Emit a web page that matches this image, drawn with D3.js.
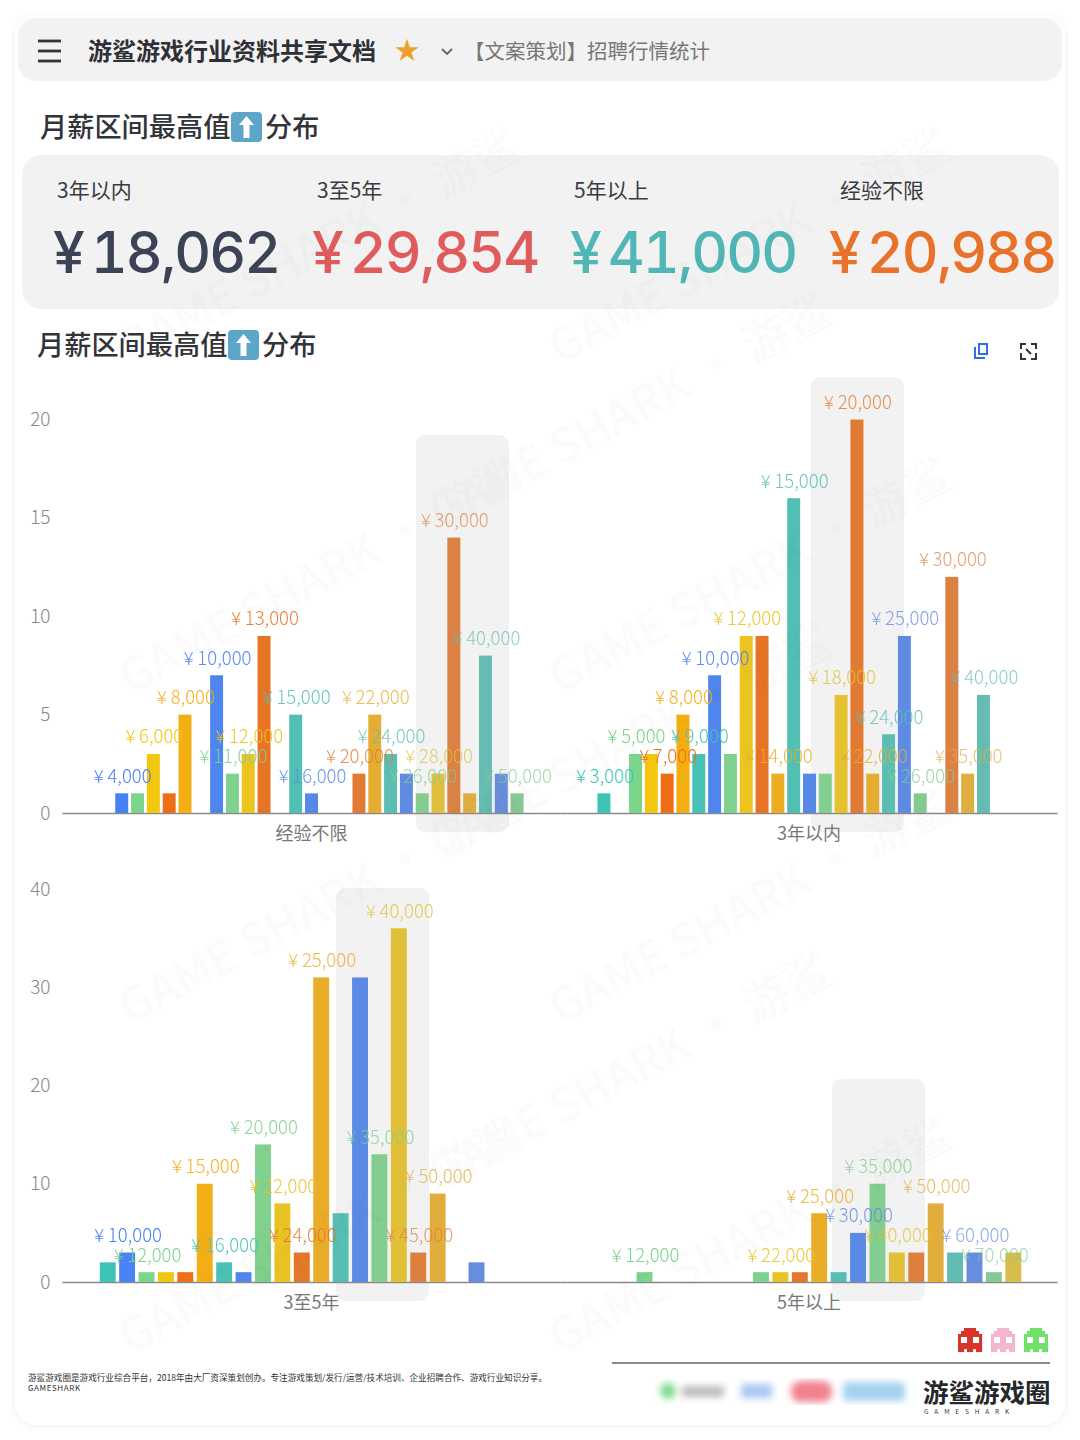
<!DOCTYPE html>
<html>
<head>
<meta charset="utf-8">
<script src="https://cdn.jsdelivr.net/npm/d3@7"></script>
<style>
  body { margin: 0; background: #fff; }
  svg { display: block; }
  text { font-family: "Noto Sans CJK SC", sans-serif; }
  .num { font-family: Inter, "Noto Sans", sans-serif; font-feature-settings: "tnum"; }
</style>
</head>
<body>
<svg id="chart" width="1080" height="1440"></svg>
<script>
// salary buckets on the x axis
const topCats = [3000,4000,5000,6000,7000,8000,9000,10000,11000,12000,13000,14000,15000,16000,17000,18000,20000,22000,24000,25000,26000,28000,30000,35000,40000,45000,50000];
const bottomCats = [8000,10000,12000,13000,14000,15000,16000,18000,20000,22000,24000,25000,28000,30000,35000,40000,45000,50000,55000,60000,70000,80000];

// job counts per bucket
const anyExpValues = [0,1,1,3,1,5,0,7,2,3,9,0,5,1,0,0,2,5,3,2,1,2,14,1,8,2,1];
const under3Values = [1,0,3,3,2,5,3,7,3,9,9,2,16,2,2,6,20,2,4,9,1,0,12,2,6,0,0];
const mid3to5Values = [2,3,1,1,1,10,2,1,14,8,3,31,7,31,13,36,3,9,0,2,0,0];
const over5Values = [0,0,1,0,0,0,0,0,1,1,1,7,1,5,10,3,3,8,3,3,1,3];

// which buckets carry a value label
const anyExpLabels = [4000,6000,8000,10000,11000,12000,13000,15000,16000,20000,22000,24000,26000,28000,30000,40000,50000];
const under3Labels = [3000,5000,7000,8000,9000,10000,12000,14000,15000,18000,20000,22000,24000,25000,26000,30000,35000,40000];
const mid3to5Labels = [10000,12000,15000,16000,20000,22000,24000,25000,35000,40000,45000,50000];
const over5Labels = [12000,22000,25000,30000,35000,40000,50000,60000,70000];

const topTicks = [0,5,10,15,20];
const bottomTicks = [0,10,20,30,40];

const statNames = ["3年以内","3至5年","5年以上","经验不限"];
const statValues = [18062,29854,41000,20988];

const palette = ["#3cc4b6","#4681f5","#7ad68a","#f7c808","#f26a0c","#fbae04"];
const yen = v => "¥\u2009" + d3.format(",")(v);

const svg = d3.select("#chart");
const defs = svg.append("defs");
defs.append("filter").attr("id","blur").append("feGaussianBlur").attr("stdDeviation",3.5);
defs.append("filter").attr("id","shadow").attr("x","-5%").attr("y","-5%").attr("width","110%").attr("height","110%")
  .append("feDropShadow").attr("dx",0).attr("dy",1).attr("stdDeviation",3).attr("flood-color","#000").attr("flood-opacity",0.07);

svg.append("rect").attr("x",15).attr("y",15).attr("width",1050).attr("height",1410).attr("rx",22)
  .attr("fill","#fff").attr("filter","url(#shadow)");

function txt(parent, x, y, s, size, fill, opts = {}) {
  return parent.append("text").attr("x",x).attr("y",y).text(s)
    .attr("font-size",size).attr("fill",fill)
    .attr("font-weight",opts.weight || 400)
    .attr("text-anchor",opts.anchor || "start")
    .attr("dominant-baseline","central");
}

// ---- header bar
const head = svg.append("g");
head.append("rect").attr("x",18).attr("y",18).attr("width",1044).attr("height",63).attr("rx",18).attr("fill","#f2f2f2");
[41,51,61].forEach(y => head.append("rect").attr("x",38).attr("y",y-1.4).attr("width",23).attr("height",2.8).attr("fill","#33343a"));
txt(head,88,49.5,"游鲨游戏行业资料共享文档",24,"#2f3036",{weight:700});
head.append("path").attr("transform","translate(407,51)")
  .attr("d",d3.symbol(d3.symbolStar,170)()).attr("fill","#eea02b");
head.append("path").attr("d","M442,49 L447,54 L452,49").attr("fill","none").attr("stroke","#666").attr("stroke-width",1.8);
txt(head,464,49.5,"【文案策划】招聘行情统计",20.5,"#777");

function sectionTitle(x, y) {
  txt(svg,x,y-2,"月薪区间最高值",27.2,"#33343a",{weight:500});
  const bx = x + 191;
  svg.append("rect").attr("x",bx).attr("y",y-15).attr("width",31).attr("height",30).attr("rx",4).attr("fill","#5ea6c9");
  svg.append("path").attr("d",`M${bx+15.5},${y-11} L${bx+23},${y-2} L${bx+18.5},${y-2} L${bx+18.5},${y+11} L${bx+12.5},${y+11} L${bx+12.5},${y-2} L${bx+8},${y-2} Z`).attr("fill","#fff");
  txt(svg,x+225,y-2,"分布",27.2,"#33343a",{weight:500});
}
sectionTitle(40,127);

// ---- stat cards
svg.append("rect").attr("x",22).attr("y",155).attr("width",1037).attr("height",154).attr("rx",20).attr("fill","#f2f2f2");
const statLabelX = [57,317,574,840];
const statNumX = [53,312,570,829];
const statColors = ["#3c4357","#e05b5b","#50b6b6","#e8722a"];
statNames.forEach((n,i) => {
  txt(svg,statLabelX[i],189,n,21,"#3a3b40");
  txt(svg,statNumX[i],252,yen(statValues[i]),57,statColors[i]).attr("class","num").attr("font-weight",500).attr("letter-spacing",-1.9);
});

sectionTitle(37,345);
// small toolbar icons
svg.append("path").attr("d","M975,347 v11 h10 M979,344 h8 v10 h-8 Z").attr("fill","none").attr("stroke","#2f6fe0").attr("stroke-width",2);
svg.append("path").attr("d","M1021,349 v-5 h5 M1036,349 v-5 h-5 M1021,353 v6 h5 M1036,353 v6 h-5 M1026,349 l5,5").attr("fill","none").attr("stroke","#333").attr("stroke-width",2);

// ---- chart panels
const rowTop = { y0: 813, y1: 419.5, domain: [0,20], ticks: topTicks };
const rowBottom = { y0: 1282, y1: 889, domain: [0,40], ticks: bottomTicks };

function fade(i, n) {
  const t = i / (n - 1);
  const c = d3.hsl(palette[i % 6]);
  c.s *= 1 - 0.3 * t;
  c.l = c.l + (0.66 - c.l) * 0.45 * t;
  return c.formatHex();
}

function panel(cfg) {
  const { name, cats, values, labels, offset, row, hi, showY } = cfg;
  const g = svg.append("g");
  const x = d3.scaleBand().domain(cats).range([98 + offset, 525 + offset]).paddingInner(0.18).paddingOuter(0.09);
  const y = d3.scaleLinear().domain(row.domain).range([row.y0, row.y1]);

  g.append("rect").attr("x",hi.x).attr("y",hi.top).attr("width",93).attr("height",hi.bottom - hi.top).attr("rx",9).attr("fill","#f2f2f2");

  if (showY) {
    const ya = g.append("g").attr("transform","translate(50.5,0)")
      .call(d3.axisLeft(y).tickValues(row.ticks).tickSize(0).tickPadding(0));
    ya.select(".domain").remove();
    ya.selectAll("text").attr("font-size",19).attr("fill","#888").attr("font-family","Inter, sans-serif").attr("font-weight",300);
  }

  const xa = d3.scalePoint().domain([name]).range([62 + offset, 560 + offset + (offset ? -1 : 0)]).padding(0.5);
  const axis = g.append("g").attr("transform",`translate(0,${row.y0})`)
    .call(d3.axisBottom(xa).tickSize(0).tickPadding(14).tickSizeOuter(0));
  axis.select(".domain").attr("stroke","#8a8a8a").attr("stroke-width",1.5);
  axis.selectAll("text").attr("font-size",18).attr("fill","#777").attr("font-family","'Noto Sans CJK SC', sans-serif");

  const rows = cats.map((c,i) => ({ c, i, v: values[i] })).filter(d => d.v > 0);
  g.selectAll(".bar").data(rows).join("rect").attr("class","bar")
    .attr("x",d => x(d.c)).attr("width",x.bandwidth())
    .attr("y",d => y(d.v)).attr("height",d => y(0) - y(d.v))
    .attr("fill",d => fade(d.i,cats.length));
  return { g, x, y, rows, labels, cats };
}

const panels = [
  panel({ name:"经验不限", cats:topCats, values:anyExpValues, labels:anyExpLabels, offset:0, row:rowTop, showY:true, hi:{x:416,top:435,bottom:832} }),
  panel({ name:"3年以内", cats:topCats, values:under3Values, labels:under3Labels, offset:498, row:rowTop, hi:{x:811,top:377,bottom:832} }),
  panel({ name:"3至5年", cats:bottomCats, values:mid3to5Values, labels:mid3to5Labels, offset:0, row:rowBottom, showY:true, hi:{x:336,top:888,bottom:1301} }),
  panel({ name:"5年以上", cats:bottomCats, values:over5Values, labels:over5Labels, offset:498, row:rowBottom, hi:{x:832,top:1079,bottom:1301} })
];

// value labels go last so they sit over every bar
panels.forEach(p => {
  p.g.selectAll(".lbl").data(p.rows.filter(d => p.labels.includes(d.c))).join("text").attr("class","lbl")
    .attr("x",d => p.x(d.c) + p.x.bandwidth() / 2 + 1)
    .attr("y",d => p.y(d.v) - 18.5)
    .attr("text-anchor","middle").attr("dominant-baseline","central")
    .attr("font-size",18.5).attr("font-weight",300)
    .attr("fill",d => fade(d.i,p.cats.length))
    .attr("opacity",d => 1 - 0.3 * d.i / (p.cats.length - 1))
    .text(d => yen(d.c));
});

// ---- footer
const ghost = ["..####..",".######.","########","#..##..#","#..##..#","########","########","##.##.##"];
[[958,"#d8352a"],[991,"#f3b6cf"],[1024,"#6fe06a"]].forEach(([gx,col]) => {
  ghost.forEach((line,r) => line.split("").forEach((ch,c) => {
    svg.append("rect").attr("x",gx + c*3).attr("y",1328 + r*3).attr("width",3.1).attr("height",3.1)
      .attr("fill",ch === "#" ? col : (r > 2 && r < 5 && ch === "." ? "#fff" : "none"));
  }));
});
svg.append("line").attr("x1",612).attr("x2",1050).attr("y1",1363).attr("y2",1363).attr("stroke","#8a8a8a").attr("stroke-width",2);
txt(svg,28,1376.5,"游鲨游戏圈是游戏行业综合平台，2018年由大厂资深策划创办。专注游戏策划/发行/运营/技术培训、企业招聘合作、游戏行业知识分享。",8.6,"#333");
txt(svg,28,1387,"GAMESHARK",8,"#333").attr("font-family","DejaVu Sans Mono").attr("letter-spacing",0.6);
const blurred = svg.append("g").attr("filter","url(#blur)");
blurred.append("circle").attr("cx",668).attr("cy",1391).attr("r",8).attr("fill","#7fdc8e");
blurred.append("rect").attr("x",682).attr("y",1386).attr("width",42).attr("height",11).attr("fill","#bbb");
blurred.append("rect").attr("x",741).attr("y",1384).attr("width",31).attr("height",14).attr("fill","#a9c8f5");
blurred.append("rect").attr("x",791).attr("y",1381).attr("width",41).attr("height",21).attr("rx",9).attr("fill","#f0828f");
blurred.append("rect").attr("x",843).attr("y",1382).attr("width",62).attr("height",19).attr("rx",4).attr("fill","#a5d2ef");
txt(svg,923,1390,"游鲨游戏圈",25.5,"#26272b",{weight:700});
txt(svg,924,1411,"G A M E S H A R K",6.5,"#333").attr("letter-spacing",2.2);

// ---- watermark, very faint over everything; drop copies that would run off the page
const wm = svg.append("g").attr("opacity",0.018).attr("pointer-events","none");
d3.range(0,9).forEach(r => d3.range(0,3).forEach(c => {
  const t = wm.append("text").attr("transform",`translate(${c*430 + (r%2)*120 + 10},${r*165 + 200}) rotate(-28)`)
    .attr("font-size",46).attr("font-weight",500).attr("fill","#000").attr("font-family","Inter, sans-serif")
    .text("GAME SHARK · 游鲨");
  const b = t.node().getBoundingClientRect();
  if (b.left < 0 || b.top < 0 || b.right > 1080 || b.bottom > 1440) t.remove();
}));
</script>
</body>
</html>
